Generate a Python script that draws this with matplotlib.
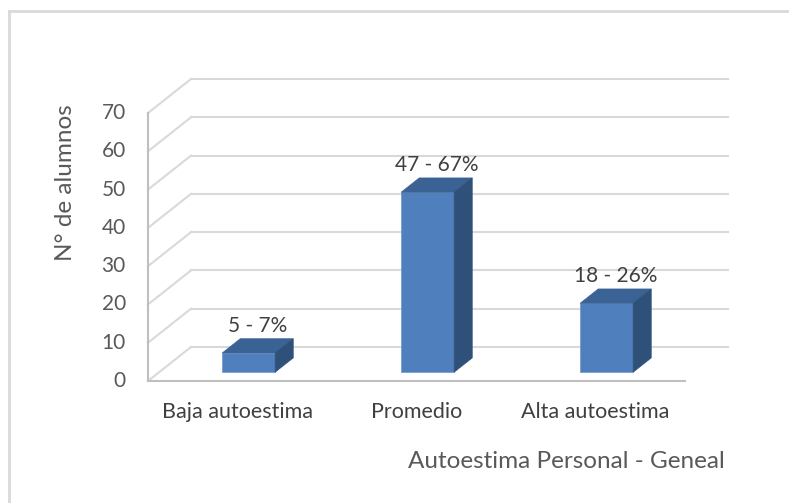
import numpy as np
import matplotlib
matplotlib.use("Agg")
import matplotlib.pyplot as plt
from matplotlib.patches import Rectangle, Polygon
from matplotlib.lines import Line2D

categories = ["Baja autoestima", "Promedio", "Alta autoestima"]
counts = [5, 47, 18]
percents = [7, 67, 26]
yticks = [0, 10, 20, 30, 40, 50, 60, 70]

plt.rcParams['font.family'] = ['Lato', 'DejaVu Sans']

W, H = 789, 503
fig = plt.figure(figsize=(W / 100, H / 100), dpi=100)
ax = fig.add_axes([148 / W, 122 / H, 537 / W, 268 / H])
ax.set_xlim(-0.5, 2.5)
ax.set_ylim(0, 70)
ax.axis('off')

# depth of the 3d box (pixels) converted to data units
p0 = ax.transData.transform((0, 0))
D = ax.transData.inverted().transform(p0 + np.array([43, 34])) - np.array([0, 0])
ddx, ddy = D

grid_c = '#d9d9d9'
axis_c = '#bfbfbf'
txt_c = '#595959'
lab_c = '#404040'

# back wall gridlines and side wall diagonals
for v in yticks:
    ax.add_line(Line2D([-0.5 + ddx, 2.5 + ddx], [v + ddy, v + ddy], color=grid_c, lw=1.5, clip_on=False, zorder=1))
    ax.add_line(Line2D([-0.5, -0.5 + ddx], [v, v + ddy], color=grid_c, lw=1.5, clip_on=False, zorder=1))
    ax.annotate(str(v), (-0.5, v), xytext=(-16, 0), textcoords='offset points',
                ha='right', va='center', fontsize=15, color=txt_c, annotation_clip=False)

# front axis lines
ax.add_line(Line2D([-0.5, -0.5], [0, 70], color=axis_c, lw=1.5, clip_on=False, zorder=5))
ax.add_line(Line2D([-0.5, 2.5], [0, 0], color=axis_c, lw=1.5, clip_on=False, zorder=5))

# 3d bars
w = 0.296
a, b = 0.26, 0.42
front_c, top_c, side_c = '#4f7fbd', '#3b6294', '#2f5179'
for i, (v, pc) in enumerate(zip(counts, percents)):
    x0 = i - w / 2 + a * ddx
    x1 = x0 + w
    y0 = a * ddy
    ax.add_patch(Rectangle((x0, y0), w, v, facecolor=front_c, edgecolor='#6f96c8', lw=0.5, clip_on=False, zorder=3))
    ax.add_patch(Polygon([(x0, y0 + v), (x1, y0 + v), (x1 + b * ddx, y0 + v + b * ddy), (x0 + b * ddx, y0 + v + b * ddy)],
                         closed=True, facecolor=top_c, edgecolor=top_c, lw=0.5, clip_on=False, zorder=3))
    ax.add_patch(Polygon([(x1, y0), (x1, y0 + v), (x1 + b * ddx, y0 + v + b * ddy), (x1 + b * ddx, y0 + b * ddy)],
                         closed=True, facecolor=side_c, edgecolor=side_c, lw=0.5, clip_on=False, zorder=3))
    ax.annotate(f"{v} - {pc}%", (i + a * ddx + b * ddx / 2, y0 + v + b * ddy), xytext=(0, 2),
                textcoords='offset points', ha='center', va='bottom', fontsize=15, color=lab_c,
                annotation_clip=False)
    ax.annotate(categories[i], (i, 0), xytext=(0, -22), textcoords='offset points',
                ha='center', va='center', fontsize=15.5, color=lab_c, annotation_clip=False)

fig.text(65 / W, 1 - 183 / H, "N° de alumnos", rotation=90, ha='center', va='center', fontsize=17.5, color=txt_c)
fig.text(725 / W, 1 - 462 / H, "Autoestima Personal - Geneal", ha='right', va='center', fontsize=17.5, color=txt_c)

# chart border (top and left visible)
fig.add_artist(Line2D([9 / W, 1], [1 - 11 / H, 1 - 11 / H], color='#d9d9d9', lw=2, transform=fig.transFigure))
fig.add_artist(Line2D([9 / W, 9 / W], [0, 1 - 11 / H], color='#d9d9d9', lw=2, transform=fig.transFigure))

fig.savefig('out.png', dpi=100)
